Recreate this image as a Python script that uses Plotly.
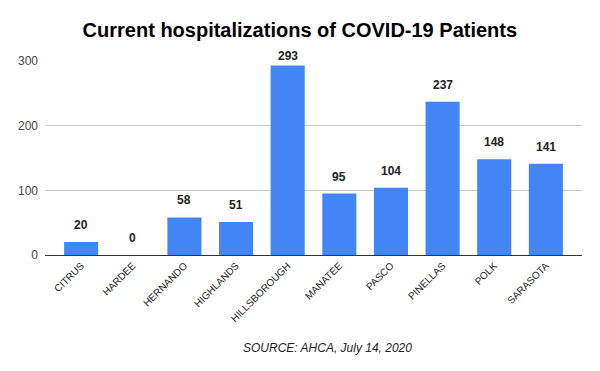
import plotly.graph_objects as go

counties = ["CITRUS", "HARDEE", "HERNANDO", "HIGHLANDS", "HILLSBOROUGH",
            "MANATEE", "PASCO", "PINELLAS", "POLK", "SARASOTA"]
hospitalizations = [20, 0, 58, 51, 293, 95, 104, 237, 148, 141]
y_ticks = [0, 100, 200, 300]

font_family = "Arial, Liberation Sans, sans-serif"

fig = go.Figure()
fig.add_trace(go.Bar(
    x=counties, y=hospitalizations,
    marker=dict(color="#4285F4", line=dict(width=0)),
    width=0.66,
))

for c, v in zip(counties, hospitalizations):
    fig.add_annotation(x=c, y=v, text=f"<b>{v}</b>", showarrow=False,
                       yshift=10 if v > 280 else 17,
                       font=dict(family=font_family, size=12, color="#222222"))

fig.add_annotation(xref="paper", yref="paper", x=0.527, y=-0.479,
                   yanchor="middle",
                   text="<i>SOURCE: AHCA, July 14, 2020</i>", showarrow=False,
                   font=dict(family=font_family, size=12, color="#222222"))

fig.update_layout(
    width=592, height=363,
    margin=dict(l=37, r=18, t=53, b=116, autoexpand=False),
    paper_bgcolor="white", plot_bgcolor="white",
    title=dict(text="<b>Current hospitalizations of COVID-19 Patients</b>",
               x=0.493, xanchor="center", y=0.939, yanchor="middle",
               font=dict(family=font_family, size=20, color="#000000")),
    font=dict(family=font_family),
    showlegend=False,
    bargap=0.34,
)
fig.update_xaxes(range=[-0.7, 9.7], tickangle=-45, showline=True,
                 linecolor="#333333", linewidth=1, ticks="", automargin=False,
                 tickfont=dict(size=10, color="#222222"))
fig.update_yaxes(range=[0, 300], tickvals=y_ticks, showgrid=True,
                 gridcolor="#cccccc", zeroline=False, ticks="", automargin=False,
                 tickfont=dict(size=12, color="#444444"), ticklabelstandoff=6)

fig.write_html("out.html")
